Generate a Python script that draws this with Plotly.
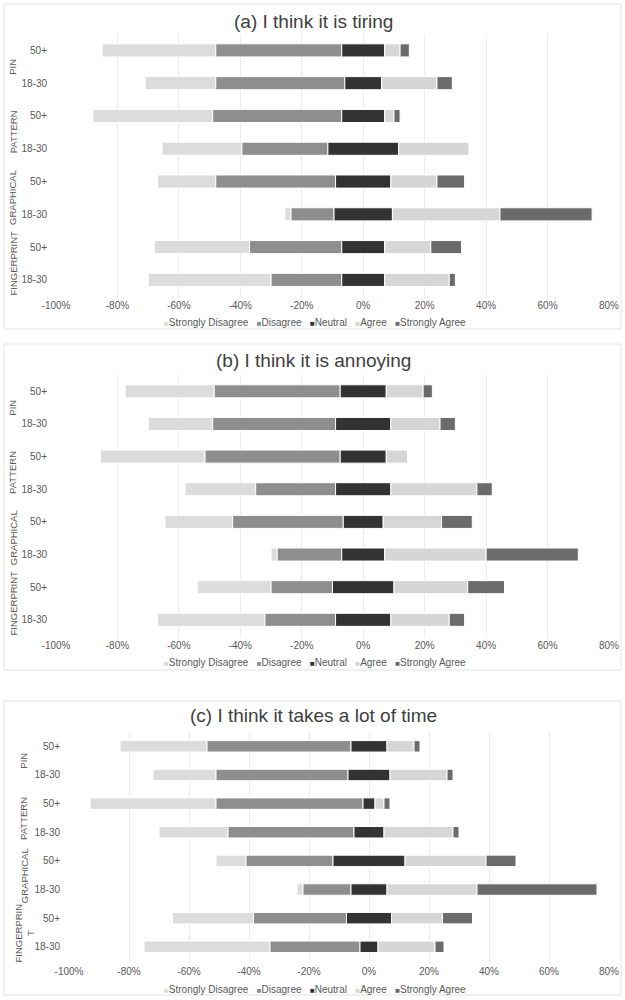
import plotly.graph_objects as go

# ---------------- data ----------------
groups = ["PIN", "PATTERN", "GRAPHICAL", "FINGERPRINT"]
ages = ["50+", "18-30"]
levels = ["Strongly Disagree", "Disagree", "Neutral", "Agree", "Strongly Agree"]
titles = ["(a) I think it is tiring", "(b) I think it is annoying", "(c) I think it takes a lot of time"]

# rows top-to-bottom: PIN 50+, PIN 18-30, PATTERN 50+, PATTERN 18-30, GRAPHICAL 50+, GRAPHICAL 18-30, FINGERPRINT 50+, FINGERPRINT 18-30
tiring_sd = [37, 23, 39, 26, 19, 2, 31, 40]
tiring_d = [41, 42, 42, 28, 39, 14, 30, 23]
tiring_n = [14, 12, 14, 23, 18, 19, 14, 14]
tiring_a = [5, 18, 3, 23, 15, 35, 15, 21]
tiring_sa = [3, 5, 2, 0, 9, 30, 10, 2]

annoying_sd = [29, 21, 34, 23, 22, 2, 24, 35]
annoying_d = [41, 40, 44, 26, 36, 21, 20, 23]
annoying_n = [15, 18, 15, 18, 13, 14, 20, 18]
annoying_a = [12, 16, 7, 28, 19, 33, 24, 19]
annoying_sa = [3, 5, 0, 5, 10, 30, 12, 5]

time_sd = [29, 21, 42, 23, 10, 2, 27, 42]
time_d = [48, 44, 49, 42, 29, 16, 31, 30]
time_n = [12, 14, 4, 10, 24, 12, 15, 6]
time_a = [9, 19, 3, 23, 27, 30, 17, 19]
time_sa = [2, 2, 2, 2, 10, 40, 10, 3]

x_tickvals = [-100, -80, -60, -40, -20, 0, 20, 40, 60, 80]
x_ticktext = ["-100%", "-80%", "-60%", "-40%", "-20%", "0%", "20%", "40%", "60%", "80%"]

panels = [
    (tiring_sd, tiring_d, tiring_n, tiring_a, tiring_sa),
    (annoying_sd, annoying_d, annoying_n, annoying_a, annoying_sa),
    (time_sd, time_d, time_n, time_a, time_sa),
]

# ---------------- style ----------------
colors = ["#dcdcdc", "#8e8e8e", "#333333", "#d6d6d6", "#6b6b6b"]
FONT = "Liberation Sans Narrow, Arial Narrow, Liberation Sans, Arial, sans-serif"
W, H = 625, 1000


def px_x(s):
    return s / W


def px_y(s):
    return 1 - s / H


# layout geometry per panel (pixels)
geo = [
    dict(box=(4, 621, 4, 329), title_y=21, plot_x=(56, 609), plot_y=(34, 298), legend_y=322, glabel_x=13),
    dict(box=(4, 621, 344, 670), title_y=360, plot_x=(56, 609), plot_y=(375, 638), legend_y=662, glabel_x=13),
    dict(box=(4, 621, 701, 995), title_y=715, plot_x=(69, 609), plot_y=(732, 964), legend_y=989, glabel_x=24),
]
group_display = [groups, groups, ["PIN", "PATTERN", "GRAPHICAL", "FINGERPRIN<br>T"]]

cats = [f"{g} {a}" for g in groups for a in ages]
cat_ticktext = [a for g in groups for a in ages]

fig = go.Figure()
shapes = []
annotations = []
layout_axes = {}

for i, (sd, d, n, a, sa) in enumerate(panels):
    xa = "x" if i == 0 else f"x{i+1}"
    ya = "y" if i == 0 else f"y{i+1}"
    series = [sd, d, n, a, sa]
    bases = [
        [-(sd[k] + d[k] + n[k] / 2) for k in range(len(cats))],
        [-(d[k] + n[k] / 2) for k in range(len(cats))],
        [-(n[k] / 2) for k in range(len(cats))],
        [n[k] / 2 for k in range(len(cats))],
        [n[k] / 2 + a[k] for k in range(len(cats))],
    ]
    for j, lvl in enumerate(levels):
        fig.add_trace(go.Bar(
            y=cats, x=series[j], base=bases[j], orientation="h", name=lvl,
            marker=dict(color=colors[j], line=dict(color="white", width=1)),
            width=0.4, showlegend=False, xaxis=xa, yaxis=ya,
        ))
    g = geo[i]
    xkey = "xaxis" if i == 0 else f"xaxis{i+1}"
    ykey = "yaxis" if i == 0 else f"yaxis{i+1}"
    layout_axes[xkey] = dict(
        domain=[px_x(g["plot_x"][0]), px_x(g["plot_x"][1])],
        anchor=ya, range=[-100, 80], tickvals=x_tickvals, ticktext=x_ticktext,
        showgrid=True, gridcolor="#ebebeb", gridwidth=1, zeroline=False, showline=False,
        ticks="", automargin=False, ticklabeloverflow="allow",
        tickfont=dict(family=FONT, size=10, color="#595959"), fixedrange=True,
    )
    layout_axes[ykey] = dict(
        domain=[px_y(g["plot_y"][1]), px_y(g["plot_y"][0])],
        anchor=xa, type="category", categoryorder="array", categoryarray=cats,
        autorange="reversed", tickvals=cats, ticktext=cat_ticktext,
        showgrid=False, zeroline=False, showline=False, ticks="", automargin=False,
        ticklabelstandoff=8,
        tickfont=dict(family=FONT, size=10, color="#595959"), fixedrange=True,
    )
    # panel border
    x0, x1, y0, y1 = g["box"]
    shapes.append(dict(type="rect", xref="paper", yref="paper",
                       x0=px_x(x0), x1=px_x(x1), y0=px_y(y1), y1=px_y(y0),
                       line=dict(color="#e3e3e3", width=1), fillcolor="rgba(0,0,0,0)", layer="below"))
    # title
    annotations.append(dict(text=titles[i], xref="paper", yref="paper", x=px_x(313), y=px_y(g["title_y"]),
                            xanchor="center", yanchor="middle", showarrow=False,
                            font=dict(family=FONT, size=19, color="#404040")))
    # group labels
    for k, gl in enumerate(group_display[i]):
        annotations.append(dict(text=gl, xref="paper", yref=ya, x=px_x(g["glabel_x"]), y=2 * k + 0.5,
                                xanchor="center", yanchor="middle", showarrow=False, textangle=-90,
                                font=dict(family=FONT, size=9.5, color="#595959")))
    # legend
    parts = []
    for j, lvl in enumerate(levels):
        parts.append(f"<span style='color:{colors[j]};font-size:8px'>■</span>{lvl}")
    legend_text = "\u00a0\u00a0\u00a0".join(parts)
    annotations.append(dict(text=legend_text, xref="paper", yref="paper", x=px_x(315), y=px_y(g["legend_y"]),
                            xanchor="center", yanchor="middle", showarrow=False,
                            font=dict(family=FONT, size=10, color="#595959")))

fig.update_layout(
    template="none",
    width=W, height=H, margin=dict(l=0, r=0, t=0, b=0, autoexpand=False),
    paper_bgcolor="white", plot_bgcolor="white",
    barmode="overlay", showlegend=False,
    shapes=shapes, annotations=annotations,
    **layout_axes,
)

fig.write_html("out.html",
               config={"displayModeBar": False},
               post_script="document.body.style.margin='0';document.body.style.overflow='hidden';")
